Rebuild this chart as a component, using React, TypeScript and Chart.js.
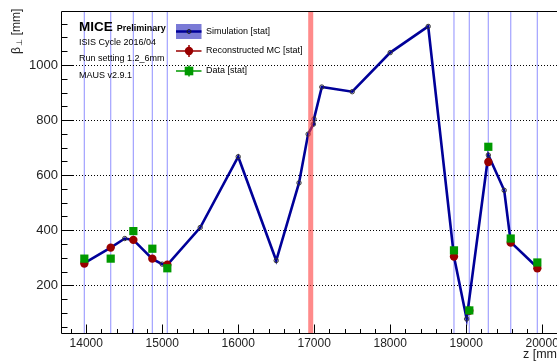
import React, { useEffect, useRef } from 'react';
import { Chart, registerables } from 'chart.js';
Chart.register(...registerables);

// ---- data ----
const simZ = [13975, 14322, 14507, 14620, 14870, 15000, 15067, 15500, 16000, 16500, 16800, 16920, 16988, 16997, 17100, 17500, 18000, 18500, 18839, 19006, 19291, 19500, 19586, 19936];
const simBeta = [281, 337, 370, 365, 296, 277, 274, 410, 667, 290, 572, 749, 785, 804, 920, 903, 1045, 1140, 305, 78, 673, 545, 357, 265];
const stationZ = [13975, 14322, 14620, 14870, 15067, 18839, 19041, 19291, 19586, 19936];
const recoBeta = [279, 337, 365, 297, 275, 305, 108, 648, 355, 262];
const dataBeta = [297, 297, 397, 333, 262, 327, 109, 703, 370, 283];
const absorberZ = [16921, 16987];
const xTicks = [14000, 15000, 16000, 17000, 18000, 19000, 20000];
const yTicks = [200, 400, 600, 800, 1000];
const textLines = ['ISIS Cycle 2016/04', 'Run setting 1.2_6mm', 'MAUS v2.9.1'];
const legendLabels = ['Simulation [stat]', 'Reconstructed MC [stat]', 'Data [stat]'];

const FONT = '"Liberation Sans", Arial, Helvetica, sans-serif';
const SIM = '#000099';
const RECO = '#990000';
const DATA = '#009900';

const rootPlugin = {
  id: 'rootStyle',
  beforeDatasetsDraw(chart: any) {
    const { ctx, chartArea: a, scales } = chart;
    const x = scales.x, y = scales.y;
    ctx.save();
    ctx.beginPath();
    ctx.rect(a.left, a.top, a.right - a.left, a.bottom - a.top);
    ctx.clip();
    // station lines
    ctx.strokeStyle = 'rgba(100,100,255,0.6)';
    ctx.lineWidth = 1.2;
    stationZ.forEach((z) => {
      const px = x.getPixelForValue(z);
      ctx.beginPath();
      ctx.moveTo(px, a.top);
      ctx.lineTo(px, a.bottom);
      ctx.stroke();
    });
    // dotted grid
    ctx.strokeStyle = '#000';
    ctx.lineWidth = 1;
    ctx.setLineDash([1, 2]);
    yTicks.forEach((v) => {
      const py = Math.round(y.getPixelForValue(v)) + 0.5;
      ctx.beginPath();
      ctx.moveTo(a.left, py);
      ctx.lineTo(a.right, py);
      ctx.stroke();
    });
    ctx.restore();
  },
  afterDatasetsDraw(chart: any) {
    const { ctx, chartArea: a, scales } = chart;
    const x = scales.x, y = scales.y;
    ctx.save();
    // absorber band
    const b0 = x.getPixelForValue(absorberZ[0]);
    const b1 = x.getPixelForValue(absorberZ[1]);
    ctx.fillStyle = 'rgba(255,60,60,0.6)';
    ctx.fillRect(b0, a.top, b1 - b0, a.bottom - a.top);

    // frame
    ctx.strokeStyle = '#000';
    ctx.lineWidth = 1;
    const L = Math.round(a.left) + 0.5, T = Math.round(a.top) + 0.5, B = Math.round(a.bottom) + 0.5;
    ctx.beginPath();
    ctx.moveTo(a.right + 5, T);
    ctx.lineTo(L, T);
    ctx.lineTo(L, B);
    ctx.lineTo(a.right + 5, B);
    ctx.stroke();

    // y ticks
    for (let v = 50; v < y.max; v += 50) {
      if (v < y.min) continue;
      const py = Math.round(y.getPixelForValue(v)) + 0.5;
      const len = v % 200 === 0 ? 12 : 6;
      ctx.beginPath();
      ctx.moveTo(L, py);
      ctx.lineTo(L + len, py);
      ctx.stroke();
    }
    // x ticks
    for (let v = 13800; v < x.max; v += 200) {
      if (v < x.min) continue;
      const px = Math.round(x.getPixelForValue(v)) + 0.5;
      const len = v % 1000 === 0 ? 9 : 4.5;
      ctx.beginPath();
      ctx.moveTo(px, B);
      ctx.lineTo(px, B - len);
      ctx.stroke();
    }

    // text block
    ctx.fillStyle = '#000';
    ctx.textBaseline = 'middle';
    ctx.textAlign = 'left';
    ctx.font = `bold 13.5px ${FONT}`;
    ctx.fillText('MICE', 79, 27);
    const w = ctx.measureText('MICE').width;
    ctx.font = `bold 9px ${FONT}`;
    ctx.fillText('Preliminary', 79 + w + 4, 28.5);
    ctx.font = `9px ${FONT}`;
    const ty = [43, 58.5, 75.5];
    textLines.forEach((t, i) => ctx.fillText(t, 79, ty[i]));

    // legend
    const ly = [31.5, 51, 71];
    const sx0 = 176, sx1 = 201.5, sc = 189;
    ctx.fillStyle = 'rgb(122,122,214)';
    ctx.fillRect(sx0, 24, sx1 - sx0, 15);
    ctx.strokeStyle = SIM;
    ctx.lineWidth = 2.5;
    ctx.beginPath(); ctx.moveTo(sx0, ly[0]); ctx.lineTo(sx1, ly[0]); ctx.stroke();
    ctx.strokeStyle = '#222'; ctx.lineWidth = 1;
    ctx.beginPath(); ctx.arc(sc, ly[0], 2, 0, Math.PI * 2); ctx.stroke();

    ctx.strokeStyle = RECO; ctx.lineWidth = 1.5;
    ctx.beginPath(); ctx.moveTo(sx0, ly[1]); ctx.lineTo(sx1, ly[1]); ctx.moveTo(sc, ly[1] - 6); ctx.lineTo(sc, ly[1] + 6); ctx.stroke();
    ctx.fillStyle = RECO;
    ctx.beginPath(); ctx.arc(sc, ly[1], 4.2, 0, Math.PI * 2); ctx.fill();

    ctx.strokeStyle = DATA; ctx.lineWidth = 1.5;
    ctx.beginPath(); ctx.moveTo(sx0, ly[2]); ctx.lineTo(sx1, ly[2]); ctx.moveTo(sc, ly[2] - 5.5); ctx.lineTo(sc, ly[2] + 5.5); ctx.stroke();
    ctx.fillStyle = DATA;
    ctx.fillRect(sc - 4.3, ly[2] - 4.3, 8.6, 8.6);

    ctx.fillStyle = '#000';
    ctx.font = `9px ${FONT}`;
    legendLabels.forEach((t, i) => ctx.fillText(t, 206, ly[i]));

    // axis titles
    ctx.font = `12.5px ${FONT}`;
    ctx.fillStyle = '#222';
    ctx.textBaseline = 'middle';
    ctx.fillText('z [mm]', 523, 355);

    ctx.save();
    ctx.translate(19.5, 54);
    ctx.rotate(-Math.PI / 2);
    ctx.textBaseline = 'alphabetic';
    ctx.font = `12px ${FONT}`;
    ctx.fillText('\u03B2', 0, 0);
    let off = ctx.measureText('\u03B2').width + 1.5;
    ctx.font = `8px ${FONT}`;
    ctx.fillText('\u22A5', off, 2.5);
    off += ctx.measureText('\u22A5').width;
    ctx.font = `12px ${FONT}`;
    ctx.fillText(' [mm]', off, 0);
    ctx.restore();

    ctx.restore();
  },
};

export default function App() {
  const ref = useRef<HTMLCanvasElement>(null);
  useEffect(() => {
    const canvas = ref.current!;
    Chart.defaults.font.family = FONT;
    const chart = new Chart(canvas, {
      type: 'line',
      data: {
        datasets: [
          {
            label: legendLabels[2],
            data: stationZ.map((z, i) => ({ x: z, y: dataBeta[i] })),
            showLine: false,
            pointStyle: 'rect',
            pointRadius: 5.8,
            pointBorderWidth: 0,
            pointBackgroundColor: DATA,
            pointBorderColor: DATA,
            order: 1,
          },
          {
            label: legendLabels[1],
            data: stationZ.map((z, i) => ({ x: z, y: recoBeta[i] })),
            showLine: false,
            pointStyle: 'circle',
            pointRadius: 4.2,
            pointBorderWidth: 0,
            pointBackgroundColor: RECO,
            pointBorderColor: RECO,
            order: 2,
          },
          {
            label: legendLabels[0],
            data: simZ.map((z, i) => ({ x: z, y: simBeta[i] })),
            borderColor: SIM,
            borderWidth: 2.6,
            tension: 0,
            pointRadius: 2.2,
            pointBorderWidth: 1,
            pointBorderColor: '#333',
            pointBackgroundColor: 'rgba(0,0,0,0)',
            order: 3,
          },
        ],
      },
      options: {
        animation: false,
        responsive: false,
        devicePixelRatio: 1,
        layout: { padding: { top: 11, right: 17, left: 0, bottom: 0 } },
        plugins: { legend: { display: false }, tooltip: { enabled: false } },
        scales: {
          x: {
            type: 'linear',
            min: 13668,
            max: 20208,
            grid: { display: false, drawTicks: false },
            border: { display: false },
            ticks: {
              autoSkip: false,
              maxRotation: 0,
              minRotation: 0,
              padding: 3,
              color: '#222',
              font: { size: 12, family: FONT },
              callback: (v: any) => String(v),
            },
            afterBuildTicks: (s: any) => {
              s.ticks = xTicks.map((v) => ({ value: v }));
            },
            afterFit: (s: any) => {
              s.height = 28;
            },
          },
          y: {
            type: 'linear',
            min: 27,
            max: 1196,
            grid: { display: false, drawTicks: false },
            border: { display: false },
            ticks: {
              padding: 3,
              color: '#222',
              font: { size: 13, family: FONT },
              callback: (v: any) => String(v),
            },
            afterBuildTicks: (s: any) => {
              s.ticks = yTicks.map((v) => ({ value: v }));
            },
            afterFit: (s: any) => {
              s.width = 61;
            },
          },
        },
      },
      plugins: [rootPlugin],
    } as any);
    return () => chart.destroy();
  }, []);
  return (
    <div style={{ position: 'fixed', left: 0, top: 0, width: 557, height: 361, overflow: 'hidden', background: '#fff' }}>
      <canvas ref={ref} width={575} height={361} style={{ display: 'block', width: 575, height: 361 }} />
    </div>
  );
}
